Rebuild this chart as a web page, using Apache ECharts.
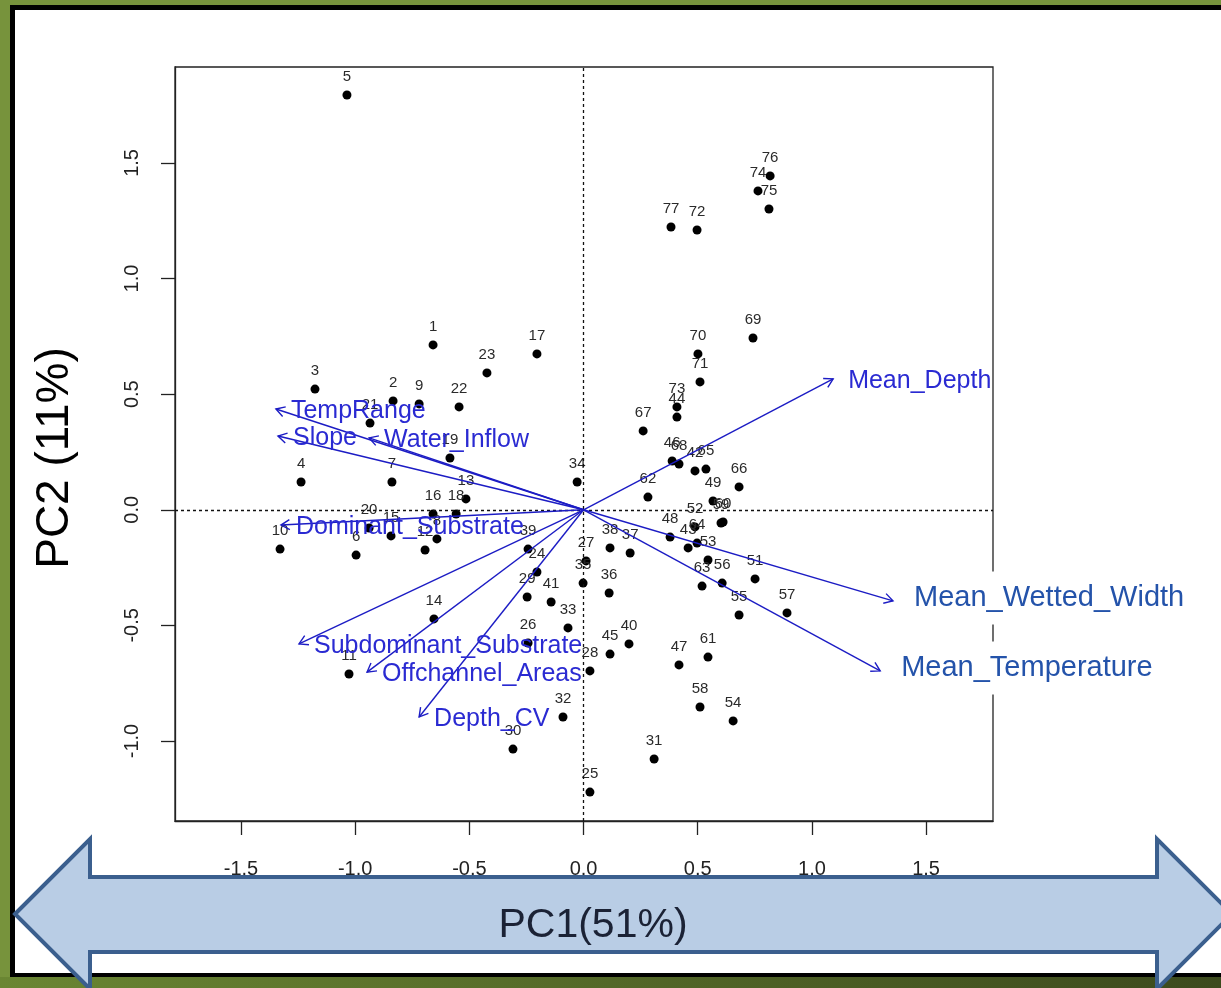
<!DOCTYPE html>
<html>
<head>
<meta charset="utf-8">
<script src="https://cdn.jsdelivr.net/npm/echarts@6/dist/echarts.min.js"></script>
<style>
  html, body { margin: 0; padding: 0; background: #77933c; }
  #chart { width: 1221px; height: 988px; }
</style>
</head>
<body>
<div id="chart"></div>
<script>
// Site scores on the first two principal components
const siteIds = [1,2,3,4,5,6,7,8,9,10,11,12,13,14,15,16,17,18,19,20,21,22,23,24,25,26,27,28,29,30,31,32,33,34,35,36,37,38,39,40,41,42,43,44,45,46,47,48,49,51,52,53,54,55,56,57,58,59,60,61,62,63,64,65,66,67,68,69,70,71,72,73,74,75,76,77];
const sitePC1 = [-0.659,-0.834,-1.176,-1.237,-1.036,-0.996,-0.839,-0.642,-0.720,-1.329,-1.027,-0.694,-0.515,-0.655,-0.843,-0.659,-0.204,-0.558,-0.585,-0.939,-0.935,-0.545,-0.423,-0.204,0.028,-0.243,0.011,0.028,-0.247,-0.309,0.309,-0.090,-0.068,-0.028,-0.002,0.112,0.204,0.116,-0.243,0.199,-0.142,0.488,0.458,0.409,0.116,0.388,0.418,0.379,0.567,0.751,0.488,0.545,0.655,0.681,0.607,0.891,0.510,0.602,0.611,0.545,0.282,0.519,0.497,0.536,0.681,0.261,0.418,0.742,0.501,0.510,0.497,0.409,0.764,0.812,0.817,0.383];
const sitePC2 = [0.713,0.471,0.522,0.120,1.794,-0.196,0.120,-0.126,0.458,-0.170,-0.710,-0.174,0.047,-0.472,-0.113,-0.018,0.674,-0.018,0.224,-0.079,0.375,0.445,0.592,-0.269,-1.221,-0.576,-0.221,-0.697,-0.377,-1.035,-1.078,-0.896,-0.511,0.120,-0.317,-0.360,-0.187,-0.165,-0.170,-0.580,-0.399,0.168,-0.165,0.401,-0.624,0.211,-0.671,-0.118,0.038,-0.299,-0.074,-0.217,-0.913,-0.455,-0.317,-0.446,-0.853,-0.057,-0.053,-0.637,0.055,-0.330,-0.144,0.176,0.099,0.341,0.198,0.743,0.674,0.553,1.210,0.445,1.379,1.301,1.444,1.223];

// Variable loadings (arrow tips)
const varNames = ['Mean_Depth','Mean_Wetted_Width','Mean_Temperature','TempRange','Slope','Water_Inflow','Dominant_Substrate','Subdominant_Substrate','Offchannel_Areas','Depth_CV'];
const varPC1 = [1.093,1.355,1.299,-1.347,-1.338,-0.939,-1.325,-1.246,-0.948,-0.720];
const varPC2 = [0.566,-0.394,-0.697,0.436,0.319,0.311,-0.066,-0.580,-0.702,-0.896];

// Axis tick positions
const xTicks = [-1.5,-1.0,-0.5,0.0,0.5,1.0,1.5];
const yTicks = [-1.0,-0.5,0.0,0.5,1.0,1.5];

const FONT = '"Liberation Sans", Arial, Helvetica, sans-serif';
// labels that sit outside the frame on a white box
const boxedLabels = ['Mean_Wetted_Width','Mean_Temperature'];

const chart = echarts.init(document.getElementById('chart'), null, { renderer: 'canvas' });

function renderArrow(params, api) {
  const i = params.dataIndex;
  const name = varNames[i];
  const o = api.coord([0, 0]);
  const p = api.coord([api.value(0), api.value(1)]);
  const ang = Math.atan2(p[1] - o[1], p[0] - o[0]);
  const L = 10, A = Math.PI / 6;
  const h1 = [p[0] - L * Math.cos(ang - A), p[1] - L * Math.sin(ang - A)];
  const h2 = [p[0] - L * Math.cos(ang + A), p[1] - L * Math.sin(ang + A)];
  const boxed = boxedLabels.indexOf(name) >= 0;
  const lineColor = '#1c1cc4';
  const text = boxed
    ? { type: 'text', z2: 20, x: p[0] + 12, y: p[1] - 3,
        style: { text: name, fill: '#2453aa', font: '29px ' + FONT, align: 'left', verticalAlign: 'middle',
                 backgroundColor: '#ffffff', padding: [12, 6, 12, 9] } }
    : { type: 'text', z2: 20, x: p[0] + 15, y: p[1] + 2,
        style: { text: name, fill: '#2a2ad2', font: '25px ' + FONT, align: 'left', verticalAlign: 'middle' } };
  return {
    type: 'group',
    children: [
      { type: 'line', shape: { x1: o[0], y1: o[1], x2: p[0], y2: p[1] },
        style: { stroke: lineColor, lineWidth: 1.4 } },
      { type: 'polyline', shape: { points: [h1, p, h2] },
        style: { stroke: lineColor, lineWidth: 1.4, fill: null } },
      text
    ]
  };
}

const option = {
  backgroundColor: '#77933c',
  animation: false,
  grid: { left: 175, top: 67, width: 818, height: 754, show: true, borderColor: '#222', borderWidth: 1.3, backgroundColor: 'transparent' },
  xAxis: {
    type: 'value', min: -1.789, max: 1.793,
    axisLine: { show: true, onZero: false, lineStyle: { color: '#222', width: 1.3 } },
    axisTick: { show: true, length: 14, customValues: xTicks, lineStyle: { color: '#222', width: 1.3 } },
    axisLabel: { customValues: xTicks, margin: 38, fontSize: 20, fontFamily: FONT, color: '#222',
                 formatter: v => v.toFixed(1) },
    splitLine: { show: false }
  },
  yAxis: {
    type: 'value', min: -1.346, max: 1.915,
    axisLine: { show: true, onZero: false, lineStyle: { color: '#222', width: 1.3 } },
    axisTick: { show: true, length: 14, customValues: yTicks, lineStyle: { color: '#222', width: 1.3 } },
    axisLabel: { customValues: yTicks, rotate: 90, margin: 33, fontSize: 20, fontFamily: FONT, color: '#222',
                 formatter: v => v.toFixed(1) },
    splitLine: { show: false }
  },
  series: [
    {
      type: 'scatter',
      data: sitePC1.map((x, i) => [x, sitePC2[i]]),
      symbol: 'circle', symbolSize: 9,
      itemStyle: { color: '#000', opacity: 1 },
      z: 3,
      label: { show: true, position: 'top', distance: 6, fontSize: 15, fontFamily: FONT, color: '#2a2a2a',
               formatter: p => String(siteIds[p.dataIndex]) },
      markLine: {
        silent: true, symbol: 'none', animation: false,
        label: { show: false },
        lineStyle: { type: [3, 3], color: '#111', width: 1.3 },
        data: [{ xAxis: 0 }, { yAxis: 0 }]
      }
    },
    {
      type: 'custom',
      clip: false,
      z: 5,
      data: varPC1.map((x, i) => [x, varPC2[i]]),
      renderItem: renderArrow
    }
  ],
  graphic: {
    elements: [
      { type: 'rect', z: -20, shape: { x: 10, y: 5, width: 1230, height: 972 }, style: { fill: '#000' } },
      { type: 'rect', z: -19, shape: { x: 15, y: 10, width: 1220, height: 963 }, style: { fill: '#fff' } },
      { type: 'rect', z: -19, shape: { x: 0, y: 977, width: 1221, height: 11 },
        style: { fill: new echarts.graphic.LinearGradient(0, 0, 1, 0, [{ offset: 0, color: '#6a8633' }, { offset: 1, color: '#3c4a1d' }]) } },
      { type: 'text', z: 50, x: 55, y: 458, rotation: Math.PI / 2,
        style: { text: 'PC2 (11%)', font: '46px ' + FONT, fill: '#000', align: 'center', verticalAlign: 'middle' } },
      { type: 'polygon', z: 100,
        shape: { points: [[15, 914], [90, 839], [90, 877], [1157, 877], [1157, 839], [1232, 914], [1157, 989], [1157, 952], [90, 952], [90, 989]] },
        style: { fill: '#b9cde5', stroke: '#3b5f8e', lineWidth: 4, lineJoin: 'miter' } },
      { type: 'text', z: 101, x: 593, y: 926,
        style: { text: 'PC1(51%)', font: '41px ' + FONT, fill: '#1b2235', align: 'center', verticalAlign: 'middle' } }
    ]
  }
};

chart.setOption(option);
</script>
</body>
</html>
